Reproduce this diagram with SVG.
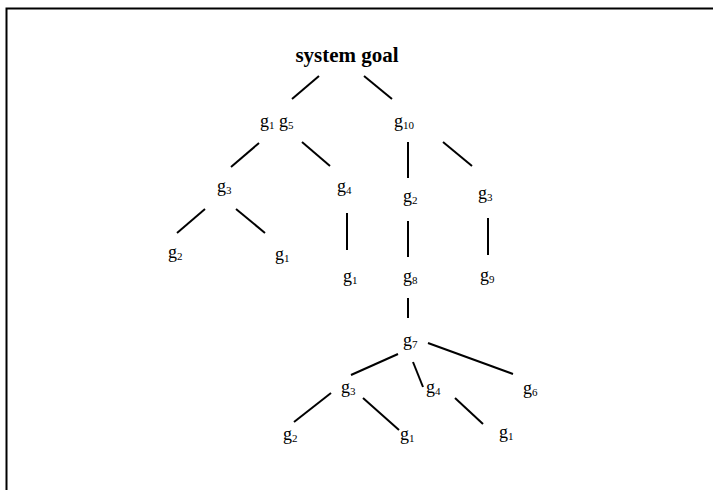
<svg xmlns="http://www.w3.org/2000/svg" width="713" height="490" viewBox="0 0 713 490">
<style>
.t{font-family:"Liberation Serif","Times New Roman",serif;font-size:18px;fill:#000}
.s{font-size:11px}
.b{font-family:"Liberation Serif","Times New Roman",serif;font-size:21px;font-weight:bold;fill:#000}
.e{stroke:#000;stroke-width:2;fill:none}
</style>
<rect width="713" height="490" fill="#fff"/>
<path d="M6.5 490 V8.5 H713" fill="none" stroke="#000" stroke-width="2"/>
<g id="edges">
<line class="e" x1="319" y1="76" x2="292" y2="99"/>
<line class="e" x1="364" y1="76" x2="392" y2="99"/>
<line class="e" x1="259" y1="143" x2="231" y2="167"/>
<line class="e" x1="302" y1="142" x2="330" y2="166"/>
<line class="e" x1="205" y1="209" x2="177" y2="233"/>
<line class="e" x1="236" y1="209" x2="265" y2="233"/>
<line class="e" x1="347" y1="213" x2="347" y2="250"/>
<line class="e" x1="408" y1="142" x2="408" y2="178"/>
<line class="e" x1="443" y1="142" x2="472" y2="166"/>
<line class="e" x1="408" y1="221" x2="408" y2="257"/>
<line class="e" x1="488" y1="218" x2="488" y2="255"/>
<line class="e" x1="408" y1="298" x2="408" y2="318"/>
<line class="e" x1="398" y1="354" x2="351" y2="375"/>
<line class="e" x1="413" y1="362" x2="423" y2="387"/>
<line class="e" x1="428" y1="343" x2="513" y2="374"/>
<line class="e" x1="331" y1="393" x2="294" y2="422"/>
<line class="e" x1="363" y1="398" x2="399" y2="430"/>
<line class="e" x1="455" y1="398" x2="483" y2="424"/>
</g>
<g id="root"><text class="b" x="347" y="62" text-anchor="middle">system goal</text></g>
<g id="g1g5"><text class="t" x="260" y="127">g<tspan class="s" dy="2">1</tspan><tspan dy="-2"> g</tspan><tspan class="s" dy="2">5</tspan></text></g>
<g id="g10"><text class="t" x="394" y="127">g<tspan class="s" dy="2">10</tspan></text></g>
<g id="g3a"><text class="t" x="217" y="192">g<tspan class="s" dy="2">3</tspan></text></g>
<g id="g4a"><text class="t" x="337" y="192">g<tspan class="s" dy="2">4</tspan></text></g>
<g id="g2a"><text class="t" x="403" y="202">g<tspan class="s" dy="2">2</tspan></text></g>
<g id="g3b"><text class="t" x="478" y="199">g<tspan class="s" dy="2">3</tspan></text></g>
<g id="g2b"><text class="t" x="168" y="258">g<tspan class="s" dy="2">2</tspan></text></g>
<g id="g1a"><text class="t" x="275" y="260">g<tspan class="s" dy="2">1</tspan></text></g>
<g id="g1b"><text class="t" x="343" y="282">g<tspan class="s" dy="2">1</tspan></text></g>
<g id="g8"><text class="t" x="403" y="282">g<tspan class="s" dy="2">8</tspan></text></g>
<g id="g9"><text class="t" x="480" y="281">g<tspan class="s" dy="2">9</tspan></text></g>
<g id="g7"><text class="t" x="403" y="346">g<tspan class="s" dy="2">7</tspan></text></g>
<g id="g3c"><text class="t" x="341" y="393">g<tspan class="s" dy="2">3</tspan></text></g>
<g id="g4b"><text class="t" x="426" y="393">g<tspan class="s" dy="2">4</tspan></text></g>
<g id="g6"><text class="t" x="523" y="394">g<tspan class="s" dy="2">6</tspan></text></g>
<g id="g2c"><text class="t" x="283" y="440">g<tspan class="s" dy="2">2</tspan></text></g>
<g id="g1c"><text class="t" x="400" y="440">g<tspan class="s" dy="2">1</tspan></text></g>
<g id="g1d"><text class="t" x="499" y="438">g<tspan class="s" dy="2">1</tspan></text></g>
</svg>
